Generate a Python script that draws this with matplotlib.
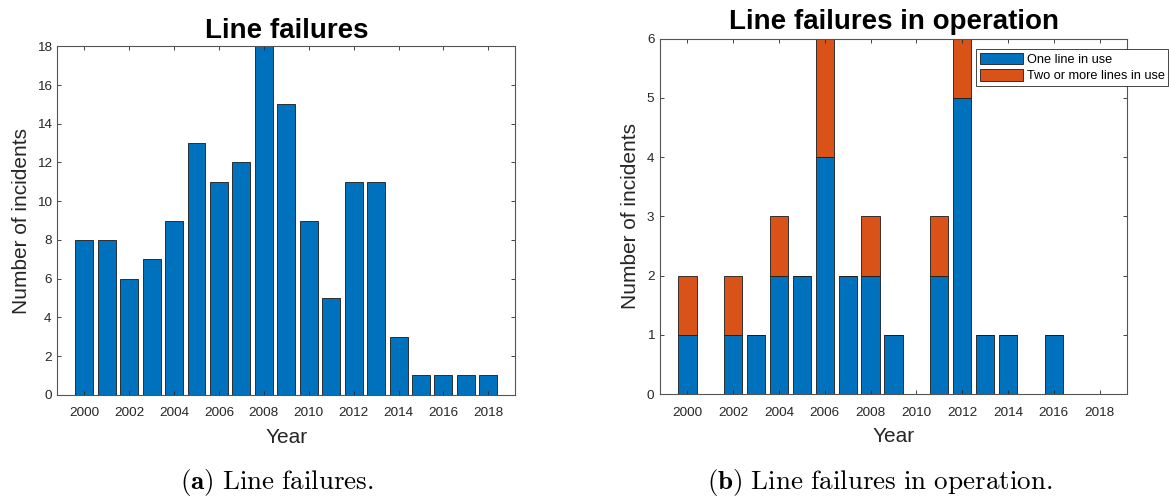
import numpy as np
import matplotlib
matplotlib.use("Agg")
import matplotlib.pyplot as plt

plt.rcParams['font.family'] = ['Liberation Sans', 'DejaVu Sans']
plt.rcParams['mathtext.fontset'] = 'cm'

years = np.arange(2000, 2019)
failures = [8, 8, 6, 7, 9, 13, 11, 12, 18, 15, 9, 5, 11, 11, 3, 1, 1, 1, 1]
one_line = [1, 0, 1, 1, 2, 2, 4, 2, 2, 1, 0, 2, 5, 1, 1, 0, 1, 0, 0]
two_lines = [1, 0, 1, 0, 1, 0, 2, 0, 1, 0, 0, 1, 1, 0, 0, 0, 0, 0, 0]

blue = '#0072BD'
orange = '#D95319'
axcol = '#262626'

fig = plt.figure(figsize=(11.69, 4.97), dpi=100)
ax1 = fig.add_axes([0.0490, 0.2058, 0.3918, 0.7010])
ax2 = fig.add_axes([0.5646, 0.2072, 0.3995, 0.7149])


def style(ax, ymax, ystep):
    ax.set_xlim(1998.8, 2019.2)
    ax.set_ylim(0, ymax)
    ax.set_xticks(np.arange(2000, 2019, 2))
    ax.set_yticks(np.arange(0, ymax + 1, ystep))
    ax.tick_params(direction='in', length=3, width=0.6, color=axcol,
                   labelcolor=axcol, labelsize=9.7, pad=4,
                   top=True, right=True)
    ax.tick_params(axis='x', pad=9)
    for s in ax.spines.values():
        s.set_color('#555555')
        s.set_linewidth(0.8)
    ax.set_xlabel('Year', fontsize=15, color=axcol, labelpad=6)
    ax.set_ylabel('Number of incidents', fontsize=15, color=axcol)


# (a) all line failures per year
ax1.bar(years, failures, width=0.8, color=blue, edgecolor='#1a1a1a', linewidth=0.6)
style(ax1, 18, 2)
ax1.set_title('Line failures', fontsize=20, fontweight='bold', pad=6)
ax1.yaxis.set_label_coords(-0.058, 0.5)

# (b) failures split by number of lines in use
ax2.bar(years, one_line, width=0.8, color=blue, edgecolor='#1a1a1a',
        linewidth=0.6, label='One line in use')
ax2.bar(years, two_lines, width=0.8, bottom=one_line, color=orange,
        edgecolor='#1a1a1a', linewidth=0.6, label='Two or more lines in use')
style(ax2, 6, 1)
ax2.set_title('Line failures in operation', fontsize=20, fontweight='bold', pad=7)
ax2.yaxis.set_label_coords(-0.043, 0.5)
leg = ax2.legend(loc='upper left', bbox_to_anchor=(0.677, 0.971), fontsize=9.2,
                 frameon=True, fancybox=False, framealpha=1, edgecolor=axcol,
                 borderaxespad=0, borderpad=0.3, handlelength=3.36,
                 handleheight=1.0, handletextpad=0.28, labelspacing=0.25)
leg.get_frame().set_linewidth(0.6)

# subfigure captions
fig.text(277 / 1169, 1 - 482 / 497, r'$\mathbf{(a)}\ \mathrm{Line\ failures.}$',
         ha='center', va='center', fontsize=19.5)
fig.text(880 / 1169, 1 - 482 / 497, r'$\mathbf{(b)}\ \mathrm{Line\ failures\ in\ operation.}$',
         ha='center', va='center', fontsize=19.5)

fig.savefig('out.png', dpi=100)
